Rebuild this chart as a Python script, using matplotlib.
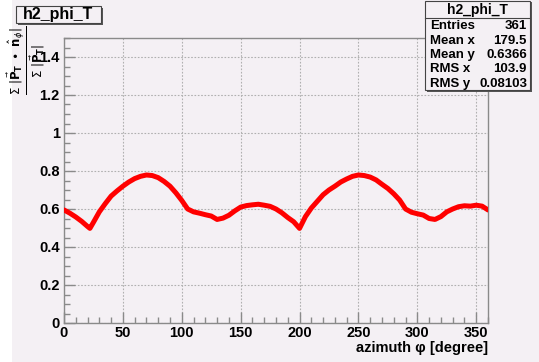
import matplotlib.pyplot as plt
from matplotlib.patches import Rectangle
from matplotlib.ticker import MultipleLocator

# azimuth (degree) and the ratio sum|P_T . n_phi| / sum|P_T|
phi = [0, 5, 10, 15, 20, 22, 25, 30, 35, 40, 45, 50, 55, 60, 65, 70, 75, 80,
       85, 90, 95, 100, 105, 110, 115, 120, 125, 130, 135, 140, 145, 150,
       155, 160, 165, 170, 175, 180, 185, 190, 195, 200, 205, 210, 215, 220,
       225, 230, 235, 240, 245, 250, 255, 260, 265, 270, 275, 280, 285, 290,
       295, 300, 305, 310, 315, 320, 325, 330, 335, 340, 345, 350, 355, 360]
ratio = [0.595, 0.578, 0.558, 0.535, 0.508, 0.498, 0.53, 0.585, 0.628, 0.668,
         0.695, 0.72, 0.742, 0.76, 0.772, 0.779, 0.776, 0.765, 0.745, 0.72,
         0.685, 0.645, 0.6, 0.585, 0.578, 0.57, 0.563, 0.545, 0.552, 0.567,
         0.59, 0.61, 0.618, 0.622, 0.625, 0.62, 0.614, 0.6, 0.58, 0.555,
         0.533, 0.498, 0.56, 0.605, 0.64, 0.675, 0.7, 0.72, 0.742, 0.758,
         0.772, 0.779, 0.776, 0.768, 0.753, 0.73, 0.708, 0.68, 0.647, 0.6,
         0.583, 0.575, 0.568, 0.55, 0.545, 0.56, 0.585, 0.6, 0.612, 0.617,
         0.615, 0.62, 0.615, 0.595]

hist_name = "h2_phi_T"
stats = [("Entries", "361"), ("Mean x", "179.5"), ("Mean y", "0.6366"),
         ("RMS x", "103.9"), ("RMS y", "0.08103")]

bg = "#f4f0f4"
frame = "#8a8a8a"
font = "Liberation Sans"

fig = plt.figure(figsize=(5.39, 3.62), dpi=100)
fig.patch.set_facecolor("white")
fig.patches.append(Rectangle((12 / 539, 0), 1, 1, transform=fig.transFigure,
                             facecolor=bg, edgecolor="none", zorder=-10))

ax = fig.add_axes([64 / 539, 1 - 323 / 362, 424 / 539, 285 / 362])
ax.set_facecolor(bg)
ax.plot(phi, ratio, color="red", lw=3.6, solid_capstyle="round",
        solid_joinstyle="round", zorder=3)

ax.set_xlim(0, 360)
ax.set_ylim(0, 1.5)
ax.xaxis.set_major_locator(MultipleLocator(50))
ax.xaxis.set_minor_locator(MultipleLocator(10))
ax.yaxis.set_minor_locator(MultipleLocator(0.05))
ax.set_yticks([0, 0.2, 0.4, 0.6, 0.8, 1.0, 1.2, 1.4])
ax.set_yticklabels(["0", "0.2", "0.4", "0.6", "0.8", "1", "1.2", "1.4"])
ax.tick_params(which="both", direction="in", color=frame, top=False, right=False)
ax.tick_params(which="major", length=8, width=1)
ax.tick_params(which="minor", length=4, width=1)
ax.tick_params(axis="both", labelsize=10.5)
ax.tick_params(axis="y", pad=3)
ax.tick_params(axis="x", pad=2)
for lab in ax.get_xticklabels() + ax.get_yticklabels():
    lab.set_fontweight("bold")
    lab.set_family(font)
ax.grid(True, which="major", color="#b0b0b0", ls=(0, (1.5, 1.5)), lw=0.8)
for s in ax.spines.values():
    s.set_color(frame)
    s.set_linewidth(1)

ax.set_xlabel("azimuth φ [degree]", fontsize=10.5, fontweight="bold",
              family=font, loc="right", labelpad=1)
fig.text(26 / 539, 1 - 26 / 362,
         r"$\frac{\Sigma\ |\vec{\mathbf{P}}_\mathbf{T}\ \bullet\ \hat{\mathbf{n}}_\phi|}"
         r"{\Sigma\ |\vec{\mathbf{P}}_\mathbf{T}|}$",
         rotation=90, ha="center", va="top", fontsize=12)

# title box
fig.patches.append(Rectangle((18 / 539, 1 - 25 / 362), 85 / 539, 17 / 362,
                             transform=fig.transFigure, facecolor="#555555",
                             edgecolor="none", zorder=1))
fig.patches.append(Rectangle((16 / 539, 1 - 23 / 362), 85 / 539, 17 / 362,
                             transform=fig.transFigure, facecolor=bg,
                             edgecolor="#444444", lw=0.8, zorder=2))
fig.text(58 / 539, 1 - 15 / 362, hist_name, ha="center", va="center",
         fontsize=11.5, fontweight="bold", family=font, zorder=3)

# statistics box
fig.patches.append(Rectangle((427 / 539, 1 - 92 / 362), 105 / 539, 90 / 362,
                             transform=fig.transFigure, facecolor="#555555",
                             edgecolor="none", zorder=1))
fig.patches.append(Rectangle((425 / 539, 1 - 90 / 362), 105 / 539, 89 / 362,
                             transform=fig.transFigure, facecolor=bg,
                             edgecolor="#444444", lw=0.8, zorder=2))
fig.lines.append(plt.Line2D([425 / 539, 530 / 539], [1 - 18 / 362, 1 - 18 / 362],
                            transform=fig.transFigure, color="#444444", lw=0.8,
                            zorder=3))
fig.text(477 / 539, 1 - 10 / 362, hist_name, ha="center", va="center",
         fontsize=10, fontweight="bold", family=font, zorder=3)
for i, (k, v) in enumerate(stats):
    y = 1 - (26 + 14.5 * i) / 362
    fig.text(430 / 539, y, k, ha="left", va="center", fontsize=9.5,
             fontweight="bold", family=font, zorder=3)
    fig.text(527 / 539, y, v, ha="right", va="center", fontsize=9.5,
             fontweight="bold", family=font, zorder=3)

fig.savefig("out.png", dpi=100, facecolor=fig.get_facecolor())
